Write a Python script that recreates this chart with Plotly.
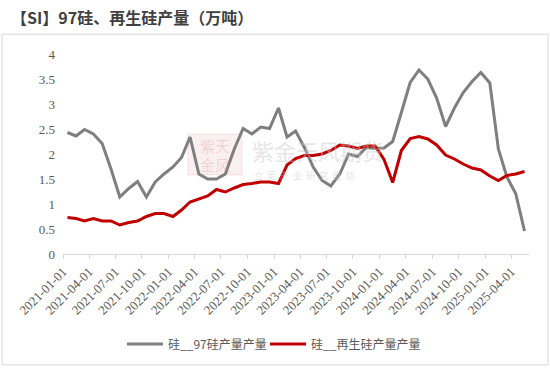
import plotly.graph_objects as go

months = [f"{y}-{m:02d}" for y in range(2021, 2026) for m in range(1, 13)][:53]

si97 = [2.43, 2.36, 2.49, 2.40, 2.21, 1.70, 1.14, 1.31, 1.45, 1.14, 1.44, 1.60,
        1.74, 1.93, 2.34, 1.60, 1.50, 1.50, 1.60, 2.10, 2.51, 2.40, 2.54, 2.51,
        2.92, 2.34, 2.46, 2.13, 1.74, 1.47, 1.36, 1.60, 2.00, 1.95, 2.13, 2.11,
        2.12, 2.25, 2.83, 3.43, 3.68, 3.50, 3.12, 2.55, 2.92, 3.23, 3.45, 3.63,
        3.42, 2.10, 1.54, 1.21, 0.46]

recycled = [0.73, 0.71, 0.66, 0.71, 0.66, 0.66, 0.58, 0.63, 0.66, 0.75, 0.81, 0.81,
            0.75, 0.88, 1.04, 1.10, 1.16, 1.29, 1.24, 1.32, 1.39, 1.41, 1.44, 1.44,
            1.41, 1.78, 1.91, 1.97, 1.97, 2.00, 2.07, 2.18, 2.16, 2.11, 2.16, 2.16,
            1.89, 1.43, 2.07, 2.31, 2.35, 2.30, 2.18, 1.98, 1.90, 1.80, 1.72, 1.68,
            1.56, 1.47, 1.57, 1.60, 1.65]

tick_vals = [f"{y}-{m:02d}-01" for y in range(2021, 2026) for m in (1, 4, 7, 10)][:18]
tick_text = tick_vals

names = ["硅__97硅产量产量", "硅__再生硅产量产量"]

fig = go.Figure()
fig.add_trace(go.Scatter(x=months, y=si97, name=names[0], mode="lines",
                         line=dict(color="#7f7f7f", width=3), legend="legend",
                         xperiod="M1", xperiodalignment="middle"))
fig.add_trace(go.Scatter(x=months, y=recycled, name=names[1], mode="lines",
                         line=dict(color="#c00000", width=3), legend="legend2",
                         xperiod="M1", xperiodalignment="middle"))

L, R, T, B = 63, 21, 54, 114
W, H = 550, 370
pw, ph = W - L - R, H - T - B

def px(x):
    return (x - L) / pw

def py(y):
    return (H - B - y) / ph

leg_common = dict(orientation="h", yanchor="middle", y=py(347), xanchor="left",
                  font=dict(family="Noto Sans CJK SC", size=12, color="#595959"),
                  itemwidth=36, bgcolor="rgba(0,0,0,0)", borderwidth=0)

fig.update_layout(
    width=W, height=H,
    margin=dict(l=L, r=R, t=T, b=B),
    paper_bgcolor="white", plot_bgcolor="white",
    showlegend=True,
    legend=dict(x=px(122), **leg_common),
    legend2=dict(x=px(265), **leg_common),
    xaxis=dict(type="date", range=["2021-01-01", "2025-06-01"],
               tickmode="array", tickvals=tick_vals, ticktext=tick_text,
               tickangle=-45, showgrid=False, zeroline=False, automargin=False,
               showline=True, linecolor="#d9d9d9", linewidth=1,
               ticks="outside", ticklen=4, tickcolor="#d9d9d9",
               tickfont=dict(family="Liberation Serif", size=13, color="#595959")),
    yaxis=dict(range=[0, 4], tickmode="array", automargin=False,
               tickvals=[0, 0.5, 1, 1.5, 2, 2.5, 3, 3.5, 4],
               ticktext=["0", "0.5", "1", "1.5", "2", "2.5", "3", "3.5", "4"],
               showgrid=False, zeroline=False, showline=False, ticks="",
               ticklabelstandoff=7,
               tickfont=dict(family="Liberation Serif", size=13, color="#595959")),
    shapes=[
        dict(type="rect", xref="paper", yref="paper",
             x0=px(2), x1=px(548), y0=py(368), y1=py(34),
             line=dict(color="#d9d9d9", width=1), fillcolor="rgba(0,0,0,0)", layer="below"),
        dict(type="rect", xref="paper", yref="paper",
             x0=px(188), x1=px(242), y0=py(176), y1=py(135),
             line=dict(color="rgba(220,150,150,0.25)", width=1),
             fillcolor="rgba(240,200,200,0.28)", layer="below"),
    ],
    annotations=[
        dict(text="<b>【SI】97硅、再生硅产量（万吨）</b>", xref="paper", yref="paper",
             x=px(9), y=py(17), xanchor="left", yanchor="middle", showarrow=False,
             font=dict(family="Noto Sans CJK SC", size=16, color="#404040")),
        dict(text="紫金天风期货", xref="paper", yref="paper",
             x=px(250), y=py(151), xanchor="left", yanchor="middle", showarrow=False,
             font=dict(family="Noto Sans CJK SC", size=22, color="rgba(200,200,200,0.45)")),
        dict(text="立  足  产  业  研  究  驱  动", xref="paper", yref="paper",
             x=px(252), y=py(177), xanchor="left", yanchor="middle", showarrow=False,
             font=dict(family="Noto Sans CJK SC", size=9, color="rgba(200,200,200,0.5)")),
        dict(text="紫天", xref="paper", yref="paper",
             x=px(215), y=py(146), xanchor="center", yanchor="middle", showarrow=False,
             font=dict(family="Noto Sans CJK SC", size=15, color="rgba(220,140,140,0.3)")),
        dict(text="金风", xref="paper", yref="paper",
             x=px(215), y=py(166), xanchor="center", yanchor="middle", showarrow=False,
             font=dict(family="Noto Sans CJK SC", size=15, color="rgba(220,140,140,0.3)")),
    ],
)

fig.write_html("out.html", config={"displayModeBar": False},
               post_script="document.body.style.margin='0';")
